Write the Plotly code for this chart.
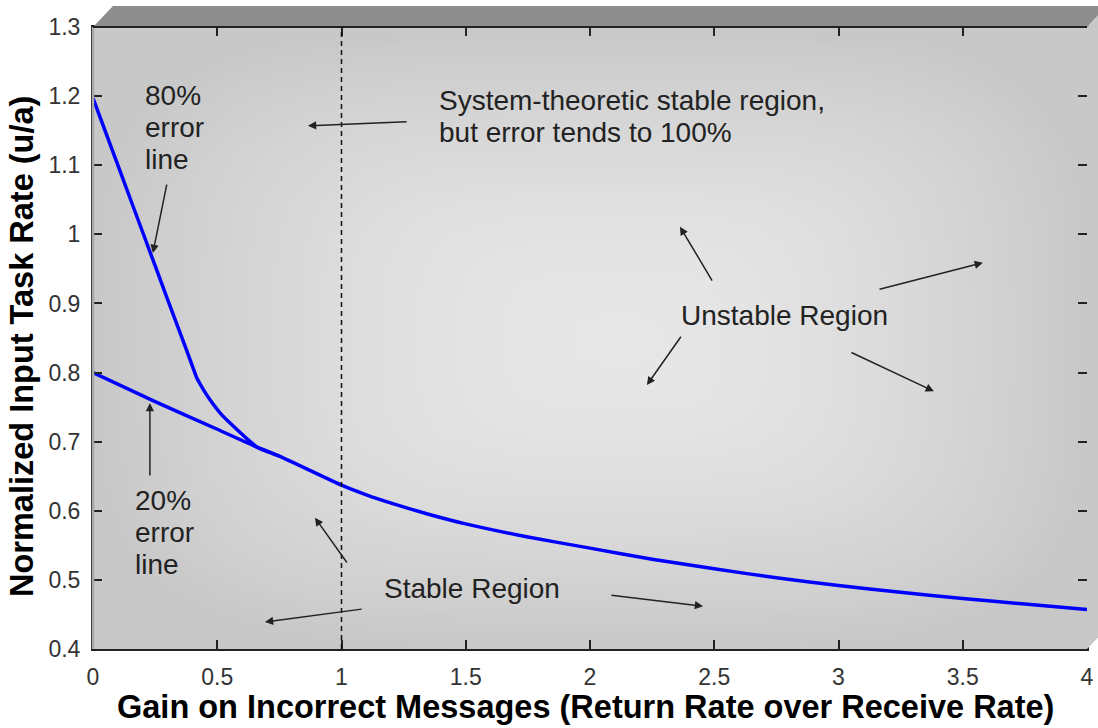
import base64, struct, zlib
import plotly.graph_objects as go

# ---------------- data ----------------
x_err20 = [0.0, 0.25, 0.5, 0.66, 0.75, 1.0, 1.1, 1.2, 1.35, 1.5, 1.75, 2.0, 2.25, 2.5, 2.75, 3.0, 3.25, 3.5, 3.75, 4.0]
y_err20 = [0.800, 0.758, 0.718, 0.692, 0.679, 0.637, 0.623, 0.611, 0.595, 0.581, 0.562, 0.546, 0.530, 0.516, 0.503, 0.492, 0.482, 0.473, 0.465, 0.457]

x_err80 = [0.0, 0.1, 0.2, 0.3, 0.378, 0.418, 0.443, 0.47, 0.52, 0.56, 0.62, 0.66, 0.75]
y_err80 = [1.197, 1.100, 1.003, 0.906, 0.831, 0.792, 0.776, 0.761, 0.738, 0.724, 0.704, 0.692, 0.679]

x_ticks = [0, 0.5, 1, 1.5, 2, 2.5, 3, 3.5, 4]
x_ticklabels = ["0", "0.5", "1", "1.5", "2", "2.5", "3", "3.5", "4"]
y_ticks = [0.4, 0.5, 0.6, 0.7, 0.8, 0.9, 1.0, 1.1, 1.2, 1.3]
y_ticklabels = ["0.4", "0.5", "0.6", "0.7", "0.8", "0.9", "1", "1.1", "1.2", "1.3"]

x_title = "Gain on Incorrect Messages (Return Rate over Receive Rate)"
y_title = "Normalized Input Task Rate (u/a)"

threshold_x = 1.0

# text labels: (lines, x, y of block centre)
labels = [
    (["80%", "error", "line"], 0.20, 1.155),
    (["20%", "error", "line"], 0.161, 0.568),
    (["System-theoretic stable region,", "but error tends to 100%"], 1.384, 1.171),
    (["Unstable Region"], 2.358, 0.883),
    (["Stable Region"], 1.163, 0.487),
]

# arrows: (tip_x, tip_y, tail_x, tail_y)
arrows = [
    (0.241, 0.973, 0.298, 1.074),
    (0.229, 0.756, 0.229, 0.649),
    (0.865, 1.157, 1.268, 1.163),
    (2.362, 1.011, 2.495, 0.931),
    (3.581, 0.959, 3.159, 0.920),
    (2.229, 0.782, 2.370, 0.854),
    (3.384, 0.773, 3.046, 0.830),
    (0.893, 0.590, 1.026, 0.523),
    (0.692, 0.439, 1.087, 0.458),
    (2.455, 0.462, 2.080, 0.478),
]

# ---------------- background gradient (png) ----------------
def make_gradient_png(w=120, h=80, cu=0.53, cv=0.5, light=231, dark=200):
    rows = []
    for j in range(h):
        v = (j + 0.5) / h
        dy = abs(v - cv) / (cv if v < cv else 1 - cv)
        row = []
        for i in range(w):
            u = (i + 0.5) / w
            dx = abs(u - cu) / (cu if u < cu else 1 - cu)
            t = min(1.0, (dx ** 4 + dy ** 4) ** 0.25)
            g = light - (light - dark) * (t ** 1.7)
            row.append(int(round(g)))
        rows.append(row)
    raw = b"".join(b"\x00" + bytes(r) for r in rows)

    def chunk(tag, data):
        c = struct.pack(">I", len(data)) + tag + data
        return c + struct.pack(">I", zlib.crc32(tag + data) & 0xFFFFFFFF)

    png = b"\x89PNG\r\n\x1a\n"
    png += chunk(b"IHDR", struct.pack(">IIBBBBB", w, h, 8, 0, 0, 0, 0))
    png += chunk(b"IDAT", zlib.compress(raw, 9))
    png += chunk(b"IEND", b"")
    return "data:image/png;base64," + base64.b64encode(png).decode()

# ---------------- figure ----------------
FONT = "Arial, Liberation Sans, sans-serif"
fig = go.Figure()

fig.add_trace(go.Scatter(x=x_err20, y=y_err20, mode="lines",
                         line=dict(color="#0000ff", width=3.5, shape="spline", smoothing=0.5),
                         hoverinfo="skip", showlegend=False))
fig.add_trace(go.Scatter(x=x_err80, y=y_err80, mode="lines",
                         line=dict(color="#0000ff", width=3.5, shape="spline", smoothing=0.35),
                         hoverinfo="skip", showlegend=False))

fig.update_layout(
    width=1098, height=728,
    margin=dict(l=93, r=11, t=27, b=79),
    paper_bgcolor="white",
    plot_bgcolor="rgba(0,0,0,0)",
    font=dict(family=FONT, color="#222222"),
    showlegend=False,
    images=[dict(source=make_gradient_png(), xref="paper", yref="paper",
                 x=0, y=1, sizex=1, sizey=1, xanchor="left", yanchor="top",
                 sizing="stretch", layer="below")],
)

fig.update_xaxes(range=[0, 4], tickvals=x_ticks, ticktext=x_ticklabels,
                 ticks="inside", ticklen=9, tickwidth=2, tickcolor="#222",
                 showline=True, linecolor="#222", linewidth=2, mirror="ticks",
                 showgrid=False, zeroline=False, automargin=False,
                 ticklabeloverflow="allow",
                 tickfont=dict(size=23, color="#333", family=FONT), ticklabelstandoff=6)
fig.update_yaxes(range=[0.4, 1.3], tickvals=y_ticks, ticktext=y_ticklabels,
                 ticks="inside", ticklen=9, tickwidth=2, tickcolor="#222",
                 showline=True, linecolor="#222", linewidth=2, mirror="ticks",
                 showgrid=False, zeroline=False, automargin=False,
                 tickfont=dict(size=23, color="#333", family=FONT), ticklabelstandoff=6)

shapes = []
# 3-D bevel: top face and right face
shapes.append(dict(type="path", xref="paper", yref="paper",
                   path="M 0 1 L 0.0201 1.0338 L 1.0201 1.0338 L 1 1 Z",
                   fillcolor="#8e8e8e", line=dict(width=0), layer="above"))
shapes.append(dict(type="path", xref="paper", yref="paper",
                   path="M 1 1 L 1.0201 1.0338 L 1.0201 0.0338 L 1 0 Z",
                   fillcolor="#c8c8c8", line=dict(width=0), layer="above"))
# left edge lighter line
shapes.append(dict(type="line", xref="paper", yref="paper", x0=0, x1=0, y0=0, y1=1,
                   line=dict(color="#a8a8a8", width=2.5), layer="above"))
# top axis line over the bevel join
shapes.append(dict(type="line", xref="paper", yref="paper", x0=0, x1=1, y0=1, y1=1,
                   line=dict(color="#222", width=2), layer="above"))
# dashed vertical line at gain = 1
shapes.append(dict(type="line", xref="x", yref="paper", x0=threshold_x, x1=threshold_x, y0=0, y1=1,
                   line=dict(color="#111", width=1.5, dash="5px,4px"), layer="above"))
fig.update_layout(shapes=shapes)

LINE_GAP = 32
annots = []
for lines, x, y in labels:
    n = len(lines)
    for k, line in enumerate(lines):
        annots.append(dict(text=line, x=x, y=y, xref="x", yref="y", showarrow=False,
                           xanchor="left", yanchor="middle", align="left",
                           yshift=-(k - (n - 1) / 2) * LINE_GAP,
                           font=dict(size=28, color="#222", family=FONT)))
for tx, ty, sx, sy in arrows:
    annots.append(dict(text="", x=tx, y=ty, ax=sx, ay=sy, xref="x", yref="y",
                       axref="x", ayref="y", showarrow=True, arrowhead=2,
                       arrowsize=1.1, arrowwidth=1.5, arrowcolor="#222", standoff=0))
annots.append(dict(text="<b>" + x_title + "</b>", xref="paper", yref="paper",
                   x=0.495, y=-0.0932, showarrow=False, xanchor="center", yanchor="middle",
                   font=dict(size=32.5, color="#000", family=FONT)))
annots.append(dict(text="<b>" + y_title + "</b>", xref="paper", yref="paper",
                   x=-0.0714, y=0.4855, showarrow=False, xanchor="center", yanchor="middle",
                   textangle=-90, font=dict(size=32.5, color="#000", family=FONT)))
fig.update_layout(annotations=annots)

fig.write_html("out.html",
               config={"displayModeBar": False},
               post_script="document.body.style.margin='0';document.body.style.padding='0';"
                           "document.body.style.overflow='hidden';")
